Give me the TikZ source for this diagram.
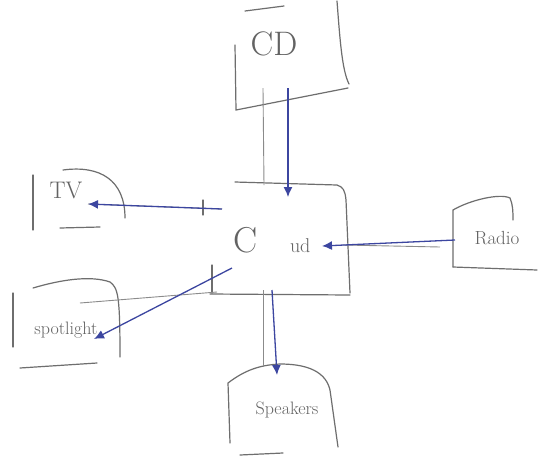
\documentclass[tikz,border=0pt]{standalone}
\usetikzlibrary{arrows.meta}
\definecolor{pen}{RGB}{60,70,160}
\definecolor{pencil}{RGB}{110,110,110}
\begin{document}
\begin{tikzpicture}[x=1pt,y=-1pt,
  sketch/.style={draw=pencil,line width=1.2pt,line cap=round},
  link/.style={draw=pen,line width=1.3pt,-{Latex[length=10pt,width=9pt]}},
  ghost/.style={draw=pencil!80,line width=0.9pt},
  lbl/.style={text=pencil!90!black}]
\useasboundingbox[fill=white] (0,0) rectangle (542,459);
% CD box
\draw[sketch] (245,11) -- (284,6);
\draw[sketch] (235,45) -- (236,110) -- (348,88);
\draw[sketch] (337,1) .. controls (340,40) and (342,70) .. (349,84);
\node[lbl,font=\fontsize{34}{34}\selectfont] (cd) at (274,44) {CD};
% Centre box
\draw[sketch] (235,182) -- (337,185) .. controls (343,187) and (345,190) .. (346,200) -- (350,293);
\draw[sketch] (210,294) -- (350,295);
\draw[sketch] (212,265) -- (212,293);
\draw[sketch] (203,200) -- (203,215);
\node[lbl,font=\fontsize{36}{36}\selectfont] (cl) at (272,240) {C\hspace{0.9em}{\fontsize{20}{20}\selectfont ud}};
% TV box
\draw[sketch] (33,175) -- (33,230);
\draw[sketch] (63,170) .. controls (100,165) and (125,180) .. (125,218);
\draw[sketch] (60,228) -- (100,227);
\node[lbl,font=\fontsize{24}{24}\selectfont] (tv) at (66,190) {TV};
% Radio box
\draw[sketch] (453,267) -- (453,210) .. controls (470,200) and (500,193) .. (510,198) .. controls (513,205) and (513,212) .. (513,220);
\draw[sketch] (453,267) -- (537,270);
\node[lbl,font=\fontsize{19}{19}\selectfont] (radio) at (497,238) {Radio};
% Spotlight box
\draw[sketch] (13,293) -- (13,347);
\draw[sketch] (33,288) .. controls (60,280) and (90,275) .. (110,282) .. controls (118,288) and (120,295) .. (120,357);
\draw[sketch] (20,368) -- (97,363);
\node[lbl,font=\fontsize{18}{18}\selectfont] (spot) at (66,330) {spotlight};
% Speakers box
\draw[sketch] (230,443) -- (228,383) .. controls (245,370) and (260,365) .. (280,364) .. controls (300,364) and (325,368) .. (330,390) -- (338,447);
\draw[sketch] (240,455) -- (283,453);
\node[lbl,font=\fontsize{18}{18}\selectfont] (spk) at (287,410) {Speakers};
% connector end points
\coordinate (cdOut) at (288,88);
\coordinate (cdGrey) at (263,88);
\coordinate (ctrTop) at (288,197);
\coordinate (ctrTopG) at (264,185);
\coordinate (ctrLeft) at (222,209);
\coordinate (tvIn) at (88,204);
\coordinate (radioOut) at (455,240);
\coordinate (radioG) at (440,247);
\coordinate (ctrRight) at (322,246);
\coordinate (ctrRightG) at (343,245);
\coordinate (ctrLL) at (232,268);
\coordinate (spotIn) at (94,339);
\coordinate (spotG) at (80,303);
\coordinate (ctrLG) at (217,292);
\coordinate (ctrBot) at (272,290);
\coordinate (spkIn) at (277,375);
\coordinate (ctrBotG) at (263,290);
\coordinate (spkG) at (263,367);
% pencil guide lines
\draw[ghost] (cdGrey) -- (ctrTopG);
\draw[ghost] (ctrLeft) -- (tvIn);
\draw[ghost] (radioG) -- (ctrRightG);
\draw[ghost] (spotG) -- (ctrLG);
\draw[ghost] (ctrBotG) -- (spkG);
% ink arrows
\draw[link] (cdOut) -- (ctrTop);
\draw[link] (ctrLeft) -- (tvIn);
\draw[link] (radioOut) -- (ctrRight);
\draw[link] (ctrLL) -- (spotIn);
\draw[link] (ctrBot) -- (spkIn);
\end{tikzpicture}
\end{document}
